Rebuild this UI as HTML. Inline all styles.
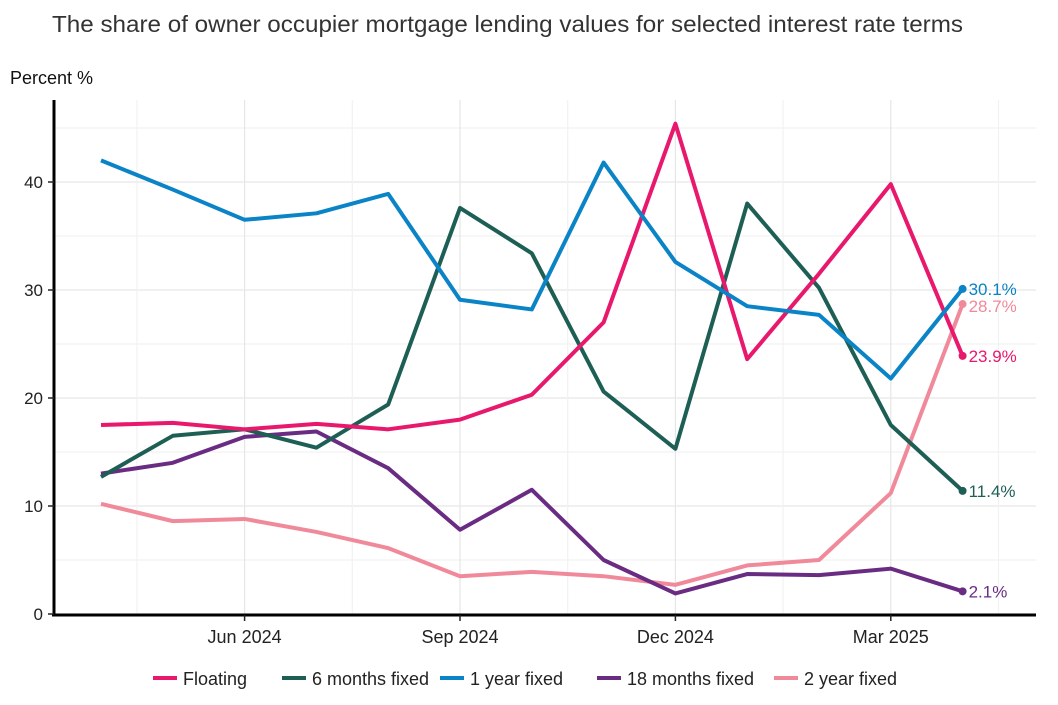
<!DOCTYPE html>
<html><head><meta charset="utf-8"><style>
body{margin:0;background:#fff;font-family:"Liberation Sans",sans-serif}
</style></head><body>
<svg id="chart" width="1058" height="700" xmlns="http://www.w3.org/2000/svg">
<text x="52" y="32" font-size="23" fill="#333" textLength="911" lengthAdjust="spacingAndGlyphs" font-family="Liberation Sans, sans-serif">The share of owner occupier mortgage lending values for selected interest rate terms</text>
<text x="10" y="84" font-size="18" fill="#111">Percent %</text>
<g id="grid"></g><g id="axes"></g><g id="series"></g><g id="legend"></g>
</svg>
<script>
const months=["Apr 2024","May 2024","Jun 2024","Jul 2024","Aug 2024","Sep 2024","Oct 2024","Nov 2024","Dec 2024","Jan 2025","Feb 2025","Mar 2025","Apr 2025"];
const floating=[17.5,17.7,17.1,17.6,17.1,18.0,20.3,27.0,45.4,23.6,31.5,39.8,23.9];
const sixMonths=[12.7,16.5,17.1,15.4,19.4,37.6,33.4,20.6,15.3,38.0,30.2,17.5,11.4];
const oneYear=[42.0,39.3,36.5,37.1,38.9,29.1,28.2,41.8,32.6,28.5,27.7,21.8,30.1];
const eighteenMonths=[13.0,14.0,16.4,16.9,13.5,7.8,11.5,5.0,1.9,3.7,3.6,4.2,2.1];
const twoYear=[10.2,8.6,8.8,7.6,6.1,3.5,3.9,3.5,2.7,4.5,5.0,11.2,28.7];
const seriesNames=["Floating","6 months fixed","1 year fixed","18 months fixed","2 year fixed"];
const yTicks=[0,10,20,30,40];
const xTickLabels=["Jun 2024","Sep 2024","Dec 2024","Mar 2025"];
const xTickIdx=[2,5,8,11];
const colors=["#e8186d","#1e5f55","#0a84c6","#6a2c83","#f08a9b"];
const data=[floating,sixMonths,oneYear,eighteenMonths,twoYear];
const NS="http://www.w3.org/2000/svg";
const X=i=>101+i*71.8, Y=v=>614-v*10.8;
function mk(tag,attrs,parent){const e=document.createElementNS(NS,tag);for(const k in attrs)e.setAttribute(k,attrs[k]);parent.appendChild(e);return e;}
const grid=document.getElementById('grid'),axes=document.getElementById('axes'),ser=document.getElementById('series'),leg=document.getElementById('legend');
for(let v=0;v<=45;v+=5){const l=mk('line',{x1:54,x2:1036,y1:Y(v),y2:Y(v),stroke:v%10?'#f2f2f2':'#e6e6e6','stroke-width':1.2},grid);
}
for(let i=0.5;i<=13;i+=1.5){const l=mk('line',{x1:X(i),x2:X(i),y1:100,y2:614,stroke:Number.isInteger(i)?'#e6e6e6':'#f2f2f2','stroke-width':1.2},grid);
}
let a=mk('line',{x1:54,x2:54,y1:100,y2:616,stroke:'#000','stroke-width':3},axes);

a=mk('line',{x1:52,x2:1036,y1:615,y2:615,stroke:'#000','stroke-width':3},axes);

yTicks.forEach(v=>{const t=mk('text',{x:43,y:Y(v)+6,'text-anchor':'end','font-size':17,fill:'#222'},axes);t.textContent=v;

mk('line',{x1:48,x2:54,y1:Y(v),y2:Y(v),stroke:'#222','stroke-width':1.5},axes);});
xTickIdx.forEach((i,k)=>{const t=mk('text',{x:X(i),y:643,'text-anchor':'middle','font-size':18,fill:'#222'},axes);t.textContent=xTickLabels[k];

mk('line',{x1:X(i),x2:X(i),y1:615,y2:621,stroke:'#222','stroke-width':1.5},axes);});
const order=[4,3,1,0,2];
order.forEach(s=>{const vals=data[s];
const p=mk('polyline',{points:vals.map((v,i)=>X(i)+','+Y(v)).join(' '),fill:'none',stroke:colors[s],'stroke-width':4,'stroke-linejoin':'round'},ser);

const n=vals.length-1;
const c=mk('circle',{cx:X(n),cy:Y(vals[n]),r:4,fill:colors[s]},ser);

let dy=6; if(s==4)dy=8;
const t=mk('text',{x:X(n)+6,y:Y(vals[n])+dy,'font-size':17,fill:colors[s]},ser);t.textContent=vals[n].toFixed(1)+'%';
});
const lx=[153,282,440,597,774];
seriesNames.forEach((nm,s)=>{const g=mk('g',{},leg);

mk('line',{x1:lx[s],x2:lx[s]+24,y1:678,y2:678,stroke:colors[s],'stroke-width':4},g);
const t=mk('text',{x:lx[s]+30,y:685,'font-size':18,fill:'#222'},g);t.textContent=nm;});
</script>
</body></html>
